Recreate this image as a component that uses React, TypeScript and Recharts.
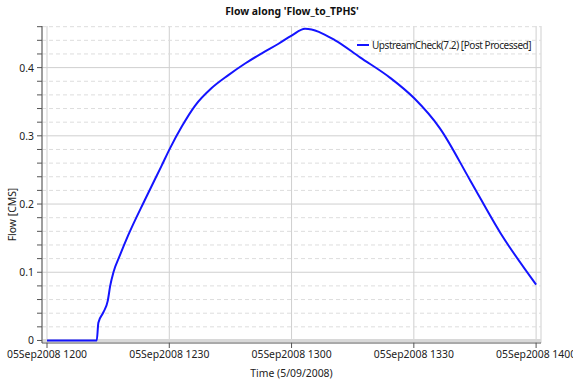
import {
  CartesianGrid,
  Line,
  LineChart,
  ReferenceLine,
  XAxis,
  YAxis,
} from "recharts";

// minutes after 05Sep2008 1200
const minutes = [
  0, 12.2, 12.6, 13.8, 14.9, 15.5, 16.3, 17.9, 19.9, 24.0, 28.1, 30.2, 33.1,
  36.3, 40.4, 44.5, 48.6, 52.7, 56.8, 60.0, 63.3, 70.7, 76.8, 84.2, 90.1, 96.4,
  103.8, 111.2, 120,
];
const flow = [
  0, 0, 0.026, 0.041, 0.058, 0.08, 0.1, 0.125, 0.154, 0.206, 0.256, 0.282,
  0.314, 0.344, 0.37, 0.389, 0.406, 0.421, 0.435, 0.447, 0.457, 0.44, 0.415,
  0.385, 0.355, 0.311, 0.235, 0.158, 0.082,
];

const xTicks = [0, 30, 60, 90, 120];
const xTickLabels = [
  "05Sep2008 1200",
  "05Sep2008 1230",
  "05Sep2008 1300",
  "05Sep2008 1330",
  "05Sep2008 1400",
];
const yMajor = [0, 0.1, 0.2, 0.3, 0.4];
const yMinor = [
  0.02, 0.04, 0.06, 0.08, 0.12, 0.14, 0.16, 0.18, 0.22, 0.24, 0.26, 0.28, 0.32,
  0.34, 0.36, 0.38, 0.42, 0.44, 0.46,
];

const seriesName = "UpstreamCheck(7.2) [Post Processed]";

const data = minutes.map((m, i) => ({ t: m, flow: flow[i] }));
const yTicks = [...yMajor, ...yMinor].sort((a, b) => a - b);

const FONT = "'Noto Sans', sans-serif";
const FS = 10.4;

const YTick = (props: any) => {
  const { x, y, payload } = props;
  const v = payload.value;
  const major = yMajor.some((m) => Math.abs(m - v) < 1e-6);
  if (!major) return null;
  return (
    <text x={x} y={y} dy={4} textAnchor="end" fontSize={FS} fill="#222" fontFamily={FONT}>
      {v === 0 ? "0" : v.toFixed(1)}
    </text>
  );
};

const YLabel = (props: any) => {
  const { viewBox } = props;
  const cx = viewBox.x + 16;
  const cy = viewBox.y + viewBox.height / 2 + 30;
  return (
    <text
      x={cx}
      y={cy}
      transform={`rotate(-90 ${cx} ${cy})`}
      textAnchor="middle"
      fontSize={FS}
      fill="#222"
      fontFamily={FONT}
    >
      Flow [CMS]
    </text>
  );
};

export default function App() {
  return (
    <div style={{ position: "absolute", left: 0, top: 0, width: 573, height: 383, background: "#fff", overflow: "hidden" }}>
      <div
        style={{
          position: "absolute",
          top: 4,
          left: 0,
          width: 584,
          textAlign: "center",
          fontFamily: FONT,
          fontSize: FS,
          fontWeight: "bold",
          color: "#111",
        }}
      >
        Flow along 'Flow_to_TPHS'
      </div>
      <LineChart
        width={573}
        height={383}
        data={data}
        margin={{ top: 26, right: 32, left: 0, bottom: 0 }}
      >
        <CartesianGrid horizontal={false} stroke="#cfcfcf" />
        {yMinor.map((v) => (
          <ReferenceLine key={"n" + v} y={v} stroke="#dddddd" strokeDasharray="4 3" ifOverflow="hidden" />
        ))}
        {yMajor.map((v) => (
          <ReferenceLine key={"m" + v} y={v} stroke={v === 0 ? "#d8d8d8" : "#cfcfcf"} strokeWidth={v === 0 ? 3 : 1} />
        ))}
        <XAxis
          dataKey="t"
          type="number"
          domain={[-1.23, 121.2]}
          allowDataOverflow
          ticks={xTicks}
          tickFormatter={(v: number) => xTickLabels[xTicks.indexOf(v)]}
          interval={0}
          height={40}
          tickSize={5}
          tickMargin={3}
          stroke="#555"
          tick={{ fontSize: FS, fill: "#222", fontFamily: FONT }}
          label={{
            value: "Time (5/09/2008)",
            position: "insideBottom",
            offset: 6,
            style: { fontSize: FS, fill: "#222", fontFamily: FONT },
          }}
        />
        <XAxis xAxisId="top" orientation="top" dataKey="t" type="number" domain={[-1.23, 121.2]} height={0} tick={false} tickLine={false} stroke="#555" />
        <YAxis
          domain={[-0.0037, 0.461]}
          allowDataOverflow
          ticks={yTicks}
          interval={0}
          width={42}
          tickSize={5}
          tickMargin={3}
          stroke="#555"
          tick={<YTick />}
          label={<YLabel />}
        />
        <YAxis yAxisId="right" orientation="right" width={0} tick={false} tickLine={false} stroke="#555" />
        <Line
          type="monotone"
          dataKey="flow"
          name={seriesName}
          stroke="#1414ff"
          strokeWidth={2}
          dot={false}
          isAnimationActive={false}
        />
      </LineChart>
      <div
        style={{
          position: "absolute",
          top: 38,
          left: 357,
          display: "flex",
          alignItems: "center",
          fontFamily: FONT,
          fontSize: 10,
          letterSpacing: -0.45,
          color: "#222",
          whiteSpace: "nowrap",
        }}
      >
        <span style={{ display: "inline-block", width: 12, height: 2, background: "#1414ff", marginRight: 3 }} />
        {seriesName}
      </div>
    </div>
  );
}
